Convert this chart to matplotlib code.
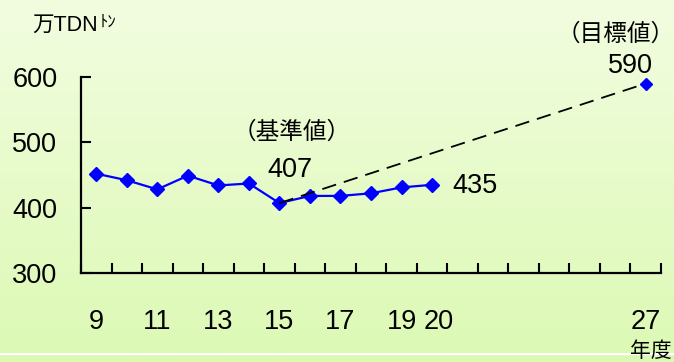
import matplotlib.pyplot as plt
import matplotlib.transforms as mtransforms
import numpy as np
from matplotlib.colors import LinearSegmentedColormap
from matplotlib.lines import Line2D

years = ["9", "10", "11", "12", "13", "14", "15", "16", "17", "18", "19", "20",
         "21", "22", "23", "24", "25", "26", "27"]
actual = [452, 442, 428, 449, 434, 437, 407, 418, 418, 422, 431, 435]
base_year = "15"
base_value = 407
target_year = "27"
target_value = 590
shown_labels = ["9", "11", "13", "15", "17", "19", "20", "27"]
y_ticks = [300, 400, 500, 600]

plt.rcParams['font.family'] = ['Liberation Sans', 'Noto Sans CJK JP']

fig = plt.figure(figsize=(6.74, 3.62), dpi=100)

# background gradient
bg = fig.add_axes([0, 0, 1, 1], zorder=-10)
cmap = LinearSegmentedColormap.from_list("bg", ["#dcf9b4", "#f2fde0"])
bg.imshow(np.linspace(0, 1, 256).reshape(-1, 1), aspect="auto", cmap=cmap,
          origin="lower", extent=[0, 1, 0, 1])
bg.axis("off")
fig.add_artist(Line2D([0, 1], [8.5 / 362, 8.5 / 362], color="white", lw=1.5,
                      transform=fig.transFigure))

ax = fig.add_axes([81 / 674, 89 / 362, 580 / 674, 196 / 362])
ax.patch.set_visible(False)

x = np.arange(len(years))
ax.plot(x[:len(actual)], actual, color="#0000ff", lw=1.6, zorder=2)
ax.plot(x[:len(actual)], actual, color="#0000ff", lw=0, marker="D", ms=7,
        zorder=3)
bi = years.index(base_year)
ti = years.index(target_year)
ax.plot([bi, ti], [base_value, target_value], color="black", lw=1.3,
        dashes=(8, 4.5), zorder=4)
ax.plot([ti], [target_value], color="#0000ff", marker="D", ms=6.5, lw=0,
        zorder=5)

ax.set_xlim(-0.5, len(years) - 0.5)
ax.set_ylim(300, 600)

for s in ["top", "right"]:
    ax.spines[s].set_visible(False)
for s in ["left", "bottom"]:
    ax.spines[s].set_linewidth(1.6)

ax.set_yticks(y_ticks)
ax.set_yticklabels([str(v) for v in y_ticks])
ax.tick_params(axis="y", direction="in", length=7, width=1.5, pad=17,
               labelsize=19.5)

ax.set_xticks(np.arange(len(years) + 1) - 0.5, minor=True)
ax.set_xticks([years.index(s) for s in shown_labels])
ax.set_xticklabels(shown_labels)
ax.tick_params(axis="x", which="minor", direction="in", length=7, width=1.5)
ax.tick_params(axis="x", which="major", length=0, pad=26, labelsize=19.5)
for lab in ax.get_xticklabels():
    if lab.get_text() == "20":
        lab.set_transform(lab.get_transform() + mtransforms.ScaledTranslation(
            7 / 100, 0, fig.dpi_scale_trans))

ax.text(bi + 0.35, base_value + 50, str(base_value), fontsize=19.5,
        ha="center", va="center")
ax.text(bi + 0.4, base_value + 108, "（基準値）", fontsize=17,
        ha="center", va="center")
ax.text(len(actual) - 1 + 1.4, actual[-1] - 2, str(actual[-1]),
        fontsize=19.5, ha="center", va="center")
ax.text(ti - 0.5, target_value + 27, str(target_value), fontsize=19.5,
        ha="center", va="center")
ax.text(ti - 1.0, target_value + 75, "（目標値）", fontsize=17,
        ha="center", va="center")

fig.text(32 / 674, 1 - 25 / 362, "万TDN", fontsize=15.5, ha="left",
         va="center")
fig.text(100 / 674, 1 - 22 / 362, "ﾄﾝ", fontsize=12, ha="left", va="center",
         family=["Noto Sans CJK JP"])
fig.text(651 / 674, 1 - 351 / 362, "年度", fontsize=15, ha="center",
         va="center", family=["Noto Sans CJK JP"])

fig.savefig("out.png", dpi=100)
